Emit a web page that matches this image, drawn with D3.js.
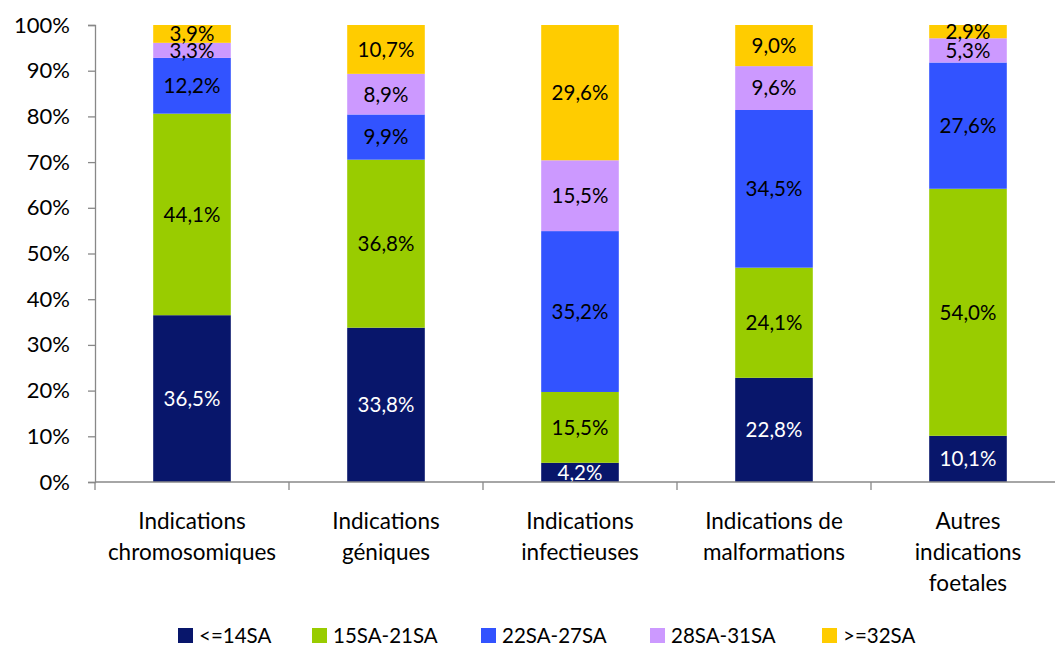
<!DOCTYPE html>
<html><head><meta charset="utf-8">
<script src="https://cdn.jsdelivr.net/npm/d3@7"></script>
<style>body{margin:0;background:#fff}svg{display:block}text{font-family:Lato,"Open Sans",sans-serif}</style>
</head><body><svg id="c" width="1055" height="648"></svg>
<script>
const categories = [["Indications","chromosomiques"],["Indications","géniques"],["Indications","infectieuses"],["Indications de","malformations"],["Autres","indications","foetales"]];
const seriesNames = ["<=14SA","15SA-21SA","22SA-27SA","28SA-31SA",">=32SA"];
const seriesColors = ["#08166B","#99CC00","#3253FF","#CC99FF","#FFCC00"];
const s1 = [36.5,33.8,4.2,22.8,10.1];
const s2 = [44.1,36.8,15.5,24.1,54.0];
const s3 = [12.2,9.9,35.2,34.5,27.6];
const s4 = [3.3,8.9,15.5,9.6,5.3];
const s5 = [3.9,10.7,29.6,9.0,2.9];
const yTicks = [0,0.1,0.2,0.3,0.4,0.5,0.6,0.7,0.8,0.9,1];
const seriesValues = [s1,s2,s3,s4,s5];

const rows = categories.map((c,i)=>{const r={key:i};seriesNames.forEach((s,j)=>r[s]=seriesValues[j][i]);return r;});
const stack = d3.stack().keys(seriesNames).offset(d3.stackOffsetExpand)(rows);

const svg = d3.select("#c");
const x = d3.scaleBand().domain(d3.range(categories.length)).range([95,1065]).paddingInner(0.6).paddingOuter(0.3);
const y = d3.scaleLinear().domain([0,1]).range([482,25]);
const fmt = v => v.toFixed(1).replace(".",",")+"%";

// y axis
const ya = svg.append("g").attr("transform","translate(95,0)")
  .call(d3.axisLeft(y).tickValues(yTicks).tickSize(7).tickFormat(d=>Math.round(d*100)+"%"));
ya.select(".domain").attr("stroke","#888").attr("stroke-width",1.3);
ya.selectAll(".tick line").attr("stroke","#888").attr("stroke-width",1.3);
ya.selectAll(".tick text").attr("font-size",22).attr("fill","#000").attr("x",-25).attr("font-family","Lato");

// bars
stack.forEach((layer,j)=>{
  svg.append("g").selectAll("rect").data(layer).join("rect")
    .attr("x",(d,i)=>x(i)).attr("width",x.bandwidth())
    .attr("y",d=>y(d[1])).attr("height",d=>y(d[0])-y(d[1]))
    .attr("fill",seriesColors[j]);
});
// labels
stack.forEach((layer,j)=>{
  svg.append("g").selectAll("text").data(layer).join("text")
    .attr("x",(d,i)=>x(i)+x.bandwidth()/2)
    .attr("y",d=>(y(d[0])+y(d[1]))/2).attr("dy","0.36em")
    .attr("text-anchor","middle").attr("font-size",20.5)
    .attr("fill",j===0?"#fff":"#000")
    .text((d,i)=>fmt(seriesValues[j][i]));
});

// x axis
const xa = svg.append("g");
xa.append("line").attr("x1",95).attr("x2",1065).attr("y1",482).attr("y2",482).attr("stroke","#888").attr("stroke-width",1.3);
const bounds = d3.range(categories.length+1).map(i=>x(0)-x.step()*0.3+ i*x.step());
xa.selectAll("line.t").data(bounds).join("line").attr("class","t")
  .attr("x1",d=>d).attr("x2",d=>d).attr("y1",482).attr("y2",490).attr("stroke","#888").attr("stroke-width",1.3);
const cl = svg.append("g").selectAll("text").data(categories).join("text")
  .attr("text-anchor","middle").attr("font-size",22.5)
  .attr("x",(d,i)=>x(i)+x.bandwidth()/2).attr("y",529);
cl.selectAll("tspan").data(d=>d).join("tspan")
  .attr("x",function(){return this.parentNode.getAttribute("x");})
  .attr("dy",(d,k)=>k===0?0:31).text(d=>d);

// legend
const legX = [178,312,481,650,822];
const lg = svg.append("g").selectAll("g").data(seriesNames).join("g")
  .attr("transform",(d,i)=>`translate(${legX[i]},628)`);
lg.append("rect").attr("width",15).attr("height",15).attr("fill",(d,i)=>seriesColors[i]);
lg.append("text").attr("x",21).attr("y",7.5).attr("dy","0.36em").attr("font-size",20.5).text(d=>d);
</script></body></html>
